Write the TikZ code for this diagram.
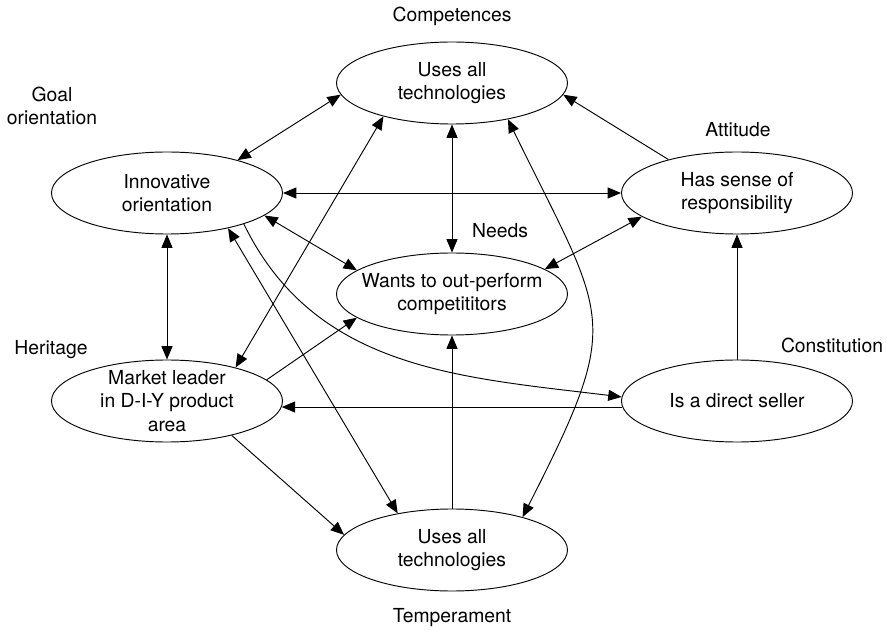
\documentclass[tikz,border=0pt]{standalone}
\usepackage{fontspec}
\setmainfont{TeX Gyre Heros}
\usetikzlibrary{shapes.geometric,arrows.meta}

\begin{document}
\begin{tikzpicture}[font=\fontsize{16.5}{20}\selectfont,
    line width=0.8pt,
    >={Triangle[length=4mm,width=3.3mm]},
    trait/.style={ellipse,draw,minimum width=6.93cm,minimum height=2.46cm,inner sep=0pt},
    txt/.style={align=center},
    tag/.style={align=center,anchor=base}]
        \useasboundingbox (0,0) rectangle (26.61,18.87);
        \node[trait] (comp) at (13.56,16.38) {};
        \node[trait] (goal) at (5.01,13.08) {};
        \node[trait] (att) at (22.11,13.08) {};
        \node[trait] (need) at (13.56,10.05) {};
        \node[trait] (her) at (5.01,6.84) {};
        \node[trait] (con) at (22.11,6.84) {};
        \node[trait] (temp) at (13.56,2.37) {};
        \node[txt] (comp-t) at (comp) {Uses all\\technologies};
        \node[txt] (goal-t) at (goal) {Innovative\\orientation};
        \node[txt] (att-t) at (att) {Has sense of\\responsibility};
        \node[txt] (need-t) at (need) {Wants to out-perform\\competititors};
        \node[txt] (her-t) at (her) {Market leader\\in D-I-Y product\\area};
        \node[txt] (con-t) at (con) {Is a direct seller};
        \node[txt] (temp-t) at (temp) {Uses all\\technologies};
        \node[tag] (comp-l) at (13.56,18.21) {Competences};
        \node[tag] (goal-l) at (1.56,15.12) {Goal\\orientation};
        \node[tag] (att-l) at (22.14,14.76) {Attitude};
        \node[tag] (need-l) at (15.0,11.73) {Needs};
        \node[tag] (her-l) at (1.53,8.22) {Heritage};
        \node[tag] (con-l) at (24.96,8.28) {Constitution};
        \node[tag] (temp-l) at (13.56,0.21) {Temperament};
        \draw[<->] (goal.25) -- (comp.186);
        \draw[<->] (goal.east) -- (att.west);
        \draw[<->] (comp.south) -- (need.north);
        \draw[<->] (goal.-13) -- (need.166);
        \draw[<->] (att.194) -- (need.15);
        \draw[->] (att.154) -- (comp.-6);
        \draw[->] (con.north) -- (att.south);
        \draw[<->] (goal.south) -- (her.north);
        \draw[<->] (her.26) -- (comp.206);
        \draw[->] (her.12) -- (need.194);
        \draw[->] (con.183) -- (her.-3);
        \draw[->] (goal.-22) to[out=-64,in=173] (con.178);
        \draw[<->] (goal.-30) -- (temp.146);
        \draw[->] (her.-28) -- (temp.172);
        \draw[->] (temp.north) -- (need.south);
        \draw[<->] (comp.-33) to[out=-64,in=63,looseness=1.45] (temp.25);
      \end{tikzpicture}
\end{document}
